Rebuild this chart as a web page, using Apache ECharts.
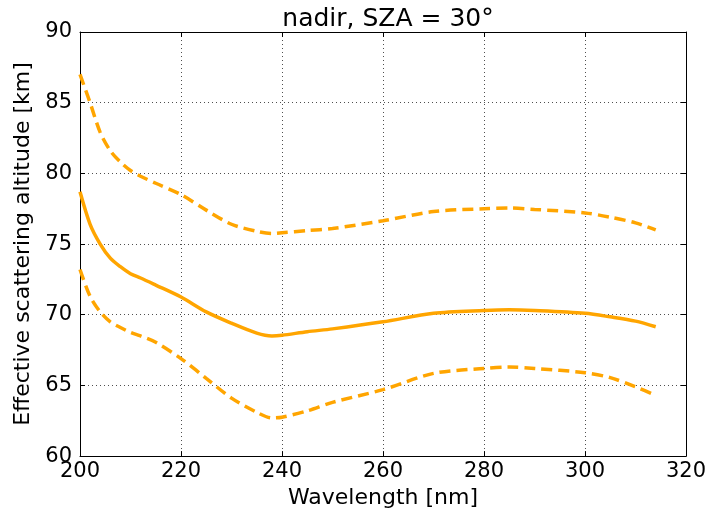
<!DOCTYPE html>
<html>
<head>
<meta charset="utf-8">
<script src="https://cdn.jsdelivr.net/npm/echarts@6/dist/echarts.min.js"></script>
<style>html,body{margin:0;padding:0;background:#fff}#chart{width:710px;height:514px}</style>
</head>
<body>
<div id="chart"></div>
<script>
// Wavelength grid [nm]
const wavelength = [200,202,204,206,208,210,212,215,220,225,230,235,238,240,245,250,260,270,280,285,290,300,305,310,314];
// Effective scattering altitude [km]: upper bound, central, lower bound
const upperAlt = [87.0,85.0,82.9,81.6,80.8,80.2,79.8,79.3,78.5,77.4,76.4,75.9,75.75,75.8,75.95,76.1,76.65,77.3,77.5,77.55,77.45,77.2,76.9,76.5,76.0];
const centralAlt = [78.7,76.4,75.0,74.0,73.4,72.9,72.6,72.1,71.25,70.2,69.4,68.7,68.5,68.55,68.8,69.0,69.5,70.1,70.3,70.35,70.3,70.1,69.85,69.55,69.15];
const lowerAlt = [73.2,71.3,70.2,69.5,69.1,68.75,68.5,68.05,66.9,65.5,64.1,63.1,62.7,62.75,63.2,63.8,64.7,65.85,66.2,66.3,66.2,65.9,65.55,64.9,64.3];
const xTicks = {min:200, max:320, interval:20};
const yTicks = {min:60, max:90, interval:5};

const pairs = ys => wavelength.map((w,i)=>[w, ys[i]]);
const font = 'DejaVu Sans';
const orange = '#FFA500';
const gridDots = {show:true, lineStyle:{color:'#222', width:0.8, type:[1,3]}};

const axisCommon = {
  axisLine:{show:true, lineStyle:{color:'#000', width:1}},
  axisTick:{show:true, inside:true, length:5, lineStyle:{color:'#000', width:1}},
};

const chart = echarts.init(document.getElementById('chart'), null, {renderer:'canvas'});
chart.setOption({
  animation:false,
  backgroundColor:'#fff',
  title:{text:'nadir, SZA = 30°', left:383, top:2, textAlign:'center',
    textStyle:{fontFamily:font, fontSize:25, fontWeight:'normal', color:'#000'}},
  grid:{left:80, right:24, top:32, bottom:57},
  xAxis:[
    Object.assign({type:'value', position:'bottom', min:xTicks.min, max:xTicks.max, interval:xTicks.interval,
      name:'Wavelength [nm]', nameLocation:'middle', nameGap:30,
      nameTextStyle:{fontFamily:font, fontSize:22, color:'#000'},
      axisLabel:{fontFamily:font, fontSize:21, color:'#000', margin:5},
      splitLine:gridDots}, axisCommon),
    Object.assign({type:'value', position:'top', min:xTicks.min, max:xTicks.max, interval:xTicks.interval,
      axisLabel:{show:false}, splitLine:{show:false}}, axisCommon)
  ],
  yAxis:[
    Object.assign({type:'value', position:'left', min:yTicks.min, max:yTicks.max, interval:yTicks.interval,
      name:'Effective scattering altitude [km]', nameLocation:'middle', nameGap:44,
      nameTextStyle:{fontFamily:font, fontSize:22, color:'#000'},
      axisLabel:{fontFamily:font, fontSize:21, color:'#000', margin:8},
      splitLine:gridDots}, axisCommon),
    Object.assign({type:'value', position:'right', min:yTicks.min, max:yTicks.max, interval:yTicks.interval,
      axisLabel:{show:false}, splitLine:{show:false}}, axisCommon)
  ],
  series:[
    {type:'line', data:pairs(upperAlt), smooth:0.3, showSymbol:false,
      lineStyle:{color:orange, width:3.5, type:[11,6]}},
    {type:'line', data:pairs(centralAlt), smooth:0.3, showSymbol:false,
      lineStyle:{color:orange, width:3.5, type:'solid'}},
    {type:'line', data:pairs(lowerAlt), smooth:0.3, showSymbol:false,
      lineStyle:{color:orange, width:3.5, type:[11,6]}}
  ]
});
</script>
</body>
</html>
